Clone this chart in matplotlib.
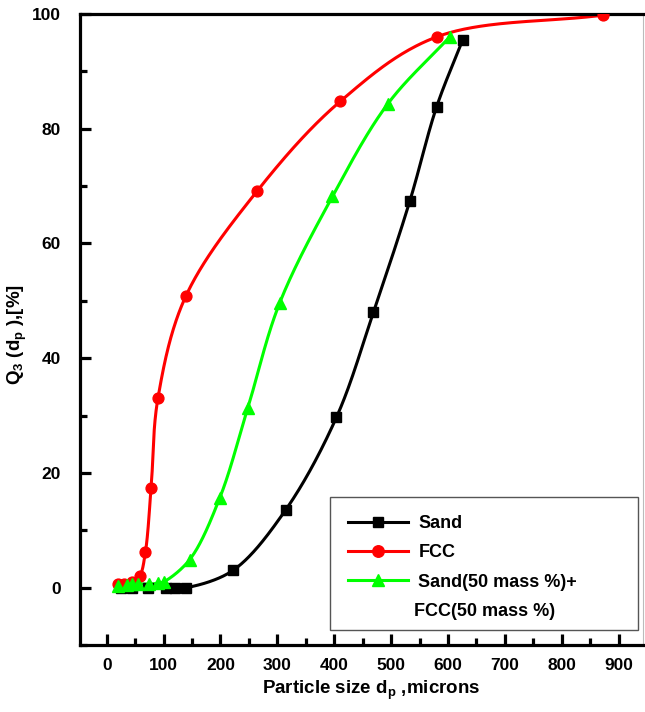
import numpy as np
import matplotlib
matplotlib.use("Agg")
import matplotlib.pyplot as plt
from matplotlib.ticker import MultipleLocator
from matplotlib.lines import Line2D
from matplotlib.patches import Rectangle

plt.rcParams['font.family'] = ['Liberation Sans', 'DejaVu Sans']
plt.rcParams['font.weight'] = 'bold'
plt.rcParams['mathtext.fontset'] = 'custom'
plt.rcParams['mathtext.rm'] = 'Liberation Sans:bold'
plt.rcParams['mathtext.bf'] = 'Liberation Sans:bold'
plt.rcParams['mathtext.it'] = 'Liberation Sans:bold'
plt.rcParams['mathtext.default'] = 'bf'

# ---- data ----
sand_x = [25, 45, 72, 105, 120, 140, 222, 315, 404, 469, 533, 580, 626]
sand_y = [0, 0, 0, 0, 0, 0, 3.0, 13.6, 29.7, 48.0, 67.4, 83.8, 95.5]

fcc_x = [20, 30, 45, 58, 68, 78, 90, 139, 265, 411, 580, 873]
fcc_y = [0.6, 0.7, 0.9, 2.0, 6.2, 17.3, 33.0, 50.8, 69.2, 84.8, 96.0, 99.8]

mix_x = [20, 35, 45, 55, 75, 90, 100, 146, 199, 248, 304, 397, 494, 603]
mix_y = [0.3, 0.5, 0.6, 0.7, 0.6, 0.8, 1.0, 4.9, 15.7, 31.3, 49.6, 68.2, 84.3, 96.0]

labels = ["Sand", "FCC", "Sand(50 mass %)+", "FCC(50 mass %)"]
colors = ["#000000", "#ff0000", "#00ff00"]
markers = ["s", "o", "^"]
msizes = [6.8, 7.8, 8.5]

XMIN, XMAX, YMIN, YMAX = -47, 943, -10, 100
AX_W_PX, AX_H_PX = 563, 631


def catmull_rom(x, y, n_seg=60, alpha=0.5):
    """Centripetal Catmull-Rom curve through the points (computed in pixel space)."""
    sx = AX_W_PX / (XMAX - XMIN)
    sy = AX_H_PX / (YMAX - YMIN)
    P = np.column_stack([np.asarray(x, float) * sx, np.asarray(y, float) * sy])
    P = np.vstack([2 * P[0] - P[1], P, 2 * P[-1] - P[-2]])
    out = []
    for i in range(1, len(P) - 2):
        p0, p1, p2, p3 = P[i - 1], P[i], P[i + 1], P[i + 2]
        t0 = 0.0
        t1 = t0 + max(np.linalg.norm(p1 - p0), 1e-6) ** alpha
        t2 = t1 + max(np.linalg.norm(p2 - p1), 1e-6) ** alpha
        t3 = t2 + max(np.linalg.norm(p3 - p2), 1e-6) ** alpha
        t = np.linspace(t1, t2, n_seg)[:, None]
        a1 = (t1 - t) / (t1 - t0) * p0 + (t - t0) / (t1 - t0) * p1
        a2 = (t2 - t) / (t2 - t1) * p1 + (t - t1) / (t2 - t1) * p2
        a3 = (t3 - t) / (t3 - t2) * p2 + (t - t2) / (t3 - t2) * p3
        b1 = (t2 - t) / (t2 - t0) * a1 + (t - t0) / (t2 - t0) * a2
        b2 = (t3 - t) / (t3 - t1) * a2 + (t - t1) / (t3 - t1) * a3
        c = (t2 - t) / (t2 - t1) * b1 + (t - t1) / (t2 - t1) * b2
        out.append(c if i == 1 else c[1:])
    C = np.vstack(out)
    return C[:, 0] / sx, C[:, 1] / sy


fig = plt.figure(figsize=(6.45, 7.12), dpi=100)
ax = fig.add_axes([80 / 645, 67 / 712, AX_W_PX / 645, AX_H_PX / 712])

series = [(sand_x, sand_y), (fcc_x, fcc_y), (mix_x, mix_y)]
handles = []
for (xs, ys), c, mk, ms in zip(series, colors, markers, msizes):
    cx, cy = catmull_rom(xs, ys)
    ax.plot(cx, cy, color=c, lw=2.2, zorder=2, solid_capstyle='round')
    ax.plot(xs, ys, linestyle='none', marker=mk, color=c, ms=ms, zorder=3)
    handles.append(Line2D([], [], color=c, lw=2.2, marker=mk, ms=ms + 0.5))
handles.append(Line2D([], [], color='none'))

ax.set_xlim(XMIN, XMAX)
ax.set_ylim(YMIN, YMAX)
ax.xaxis.set_minor_locator(MultipleLocator(50))
ax.yaxis.set_minor_locator(MultipleLocator(10))
ax.set_xticks(np.arange(0, 901, 100))
ax.set_yticks(np.arange(0, 101, 20))

for s in ['left', 'bottom', 'top']:
    ax.spines[s].set_linewidth(2.3)
ax.spines['right'].set_linewidth(0.8)
ax.spines['right'].set_color('#bbbbbb')

ax.tick_params(axis='both', which='major', direction='in', length=8, width=2.3,
               labelsize=12.5)
ax.tick_params(axis='both', which='minor', direction='in', length=5, width=2.3)
ax.tick_params(axis='x', which='both', pad=9, top=False)
ax.tick_params(axis='y', which='both', pad=14, right=False)
for lbl in ax.get_xticklabels() + ax.get_yticklabels():
    lbl.set_fontweight('bold')

ax.set_xlabel(r"Particle size d$_\mathbf{p}$ ,microns", fontsize=13.5, fontweight='bold')
ax.xaxis.set_label_coords((371 - 80) / 563, (645 - 690) / 631)
ax.xaxis.label.set_va('center')
ax.set_ylabel(r"Q$_\mathbf{3}$ (d$_\mathbf{p}$ ),[%]", fontsize=13.5, fontweight='bold')
ax.yaxis.set_label_coords((17 - 80) / 563, (645 - 335) / 631)
ax.yaxis.label.set_va('center')

# legend frame drawn as a box in figure pixels
fig.patches.append(Rectangle((330 / 645, 1 - 630 / 712), 308 / 645, 133 / 712,
                             transform=fig.transFigure, facecolor='white',
                             edgecolor='#555555', lw=1.0, zorder=5))
leg = fig.legend(handles, labels, loc='upper left',
                 bbox_to_anchor=(348 / 645, 1 - 515 / 712),
                 bbox_transform=fig.transFigure, frameon=False,
                 prop={'weight': 'bold', 'size': 13}, handlelength=3.3,
                 handletextpad=0.6, labelspacing=0.68, borderpad=0,
                 borderaxespad=0)
leg.set_zorder(6)
leg.get_texts()[3].set_x(-4)

fig.savefig("out.png", dpi=100)
